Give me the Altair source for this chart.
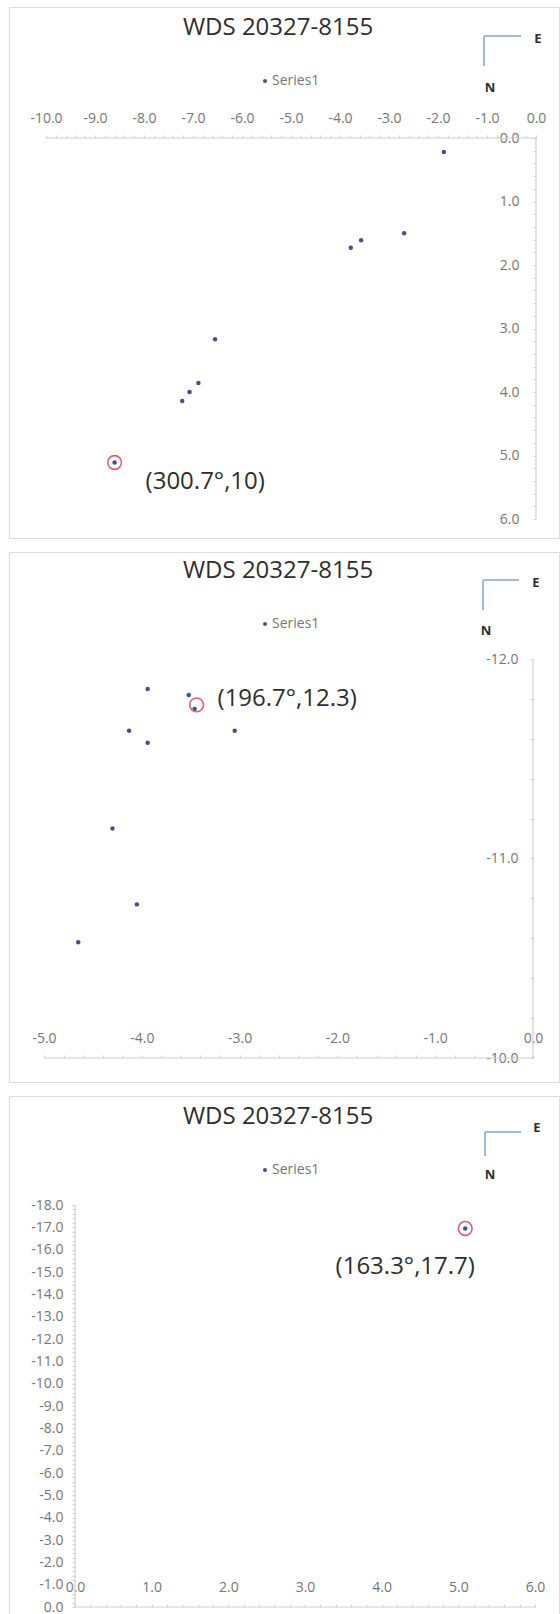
import altair as alt
import pandas as pd

FONT = "Open Sans"
TITLE_TEXT = "WDS 20327-8155"
LEGEND_TEXT = "Series1"
COMPASS_E = "E"
COMPASS_N = "N"

# ---------------- data (offsets in arcsec: E = x, N = y) ----------------
p1_e = [-1.88, -2.69, -3.57, -3.78, -6.55, -6.89, -7.07, -7.22, -8.60]
p1_n = [0.22, 1.50, 1.61, 1.73, 3.17, 3.86, 4.00, 4.14, 5.11]
p1_mark_e = [-8.60]
p1_mark_n = [5.11]
p1_mark_label = ["(300.7°,10)"]
p1_x_range = [-10, 0]
p1_y_range = [0, 6]

p2_e = [-3.94, -3.52, -3.46, -4.13, -3.94, -3.05, -4.30, -4.05, -4.65]
p2_n = [-11.85, -11.82, -11.75, -11.64, -11.58, -11.64, -11.15, -10.77, -10.58]
p2_mark_e = [-3.44]
p2_mark_n = [-11.77]
p2_mark_label = ["(196.7°,12.3)"]
p2_x_range = [-5, 0]
p2_y_range = [-12, -10]

p3_e = [5.09]
p3_n = [-16.95]
p3_mark_e = [5.09]
p3_mark_n = [-16.95]
p3_mark_label = ["(163.3°,17.7)"]
p3_x_range = [0, 6]
p3_y_range = [-18, 0]

# ---------------- styling ----------------
SERIES = "#3f5585"
RING = "#e0606f"
AXIS_GRAY = "#d0d0d0"
LABEL_GRAY = "#767676"
TEXT_DARK = "#2e2e2e"
COMPASS_BLUE = "#7fa6cf"
MINOR = 0.2
TICK_FS = 14
NOTE_FS = 24
TITLE_FS = 24
LEGEND_FS = 14
COMPASS_FS = 13

LABEL_EXPR = ("abs(datum.value - round(datum.value)) < 0.001 ? "
              "((datum.value < -0.001 ? '-' : '') + format(abs(datum.value), '.1f')) : ''")


def panel(e, n, me, mn, mlab, xr, yr, xcross, ycross, geo, deco, ann):
    W, H = geo["W"], geo["H"]
    sx = (geo["x1px"] - geo["x0px"]) / (xr[1] - xr[0])
    sy = (geo["y1px"] - geo["y0px"]) / (yr[1] - yr[0])
    xdom = [xr[0] - geo["x0px"] / sx, xr[0] + (W - geo["x0px"]) / sx]
    ydom = [yr[0] - geo["y0px"] / sy, yr[0] + (H - geo["y0px"]) / sy]
    xscale = alt.Scale(domain=xdom, nice=False, zero=False)
    yscale = alt.Scale(domain=ydom, nice=False, zero=False, reverse=True)
    x_axis_px = (xcross - ydom[0]) * sy
    y_axis_px = (ycross - xdom[0]) * sx
    nx = int(round((xr[1] - xr[0]) / MINOR))
    ny = int(round((yr[1] - yr[0]) / MINOR))
    xticks = [round(xr[0] + MINOR * i, 1) + 0.0 for i in range(nx + 1)]
    yticks = [round(yr[0] + MINOR * i, 1) + 0.0 for i in range(ny + 1)]

    xaxis = alt.Axis(orient="top", offset=-x_axis_px, values=xticks, labelExpr=LABEL_EXPR,
                     domain=False, grid=False, tickSize=3, tickColor=AXIS_GRAY, tickWidth=1,
                     labelColor=LABEL_GRAY, labelFont=FONT, labelFontSize=TICK_FS,
                     labelPadding=geo["xpad"], labelBaseline="middle", labelAlign="center",
                     labelOverlap=False, labelFlush=False, labelBound=False, title=None)
    yaxis = alt.Axis(orient="left", offset=-y_axis_px, values=yticks, labelExpr=LABEL_EXPR,
                     domain=False, grid=False, tickSize=3, tickColor=AXIS_GRAY, tickWidth=1,
                     labelColor=LABEL_GRAY, labelFont=FONT, labelFontSize=TICK_FS,
                     labelPadding=geo["ypad"], labelBaseline="middle", labelAlign="right",
                     labelOverlap=False, labelFlush=False, labelBound=False, title=None)

    X = lambda f: alt.X(f, type="quantitative", scale=xscale, axis=xaxis)
    Y = lambda f: alt.Y(f, type="quantitative", scale=yscale, axis=yaxis)

    axis_lines = pd.DataFrame({
        "e": [xr[0], ycross], "e2": [xr[1], ycross],
        "n": [xcross, yr[0]], "n2": [xcross, yr[1]],
    })
    pts = pd.DataFrame({"e": e, "n": n})
    marks = pd.DataFrame({"e": me, "n": mn, "label": mlab})

    rules = alt.Chart(axis_lines).mark_rule(color=AXIS_GRAY, strokeWidth=1.2).encode(
        x=X("e"), x2="e2", y=Y("n"), y2="n2")
    dots = alt.Chart(pts).mark_circle(size=20, color=SERIES, opacity=1).encode(x=X("e"), y=Y("n"))
    ring = alt.Chart(marks).mark_point(shape="circle", filled=False, size=190, color=RING,
                                       strokeWidth=1.6, opacity=1).encode(x=X("e"), y=Y("n"))
    note = alt.Chart(marks).mark_text(align=ann["align"], baseline="middle", dx=ann["dx"], dy=ann["dy"],
                                      font=FONT, fontSize=NOTE_FS, color=TEXT_DARK).encode(
        x=X("e"), y=Y("n"), text="label:N")

    one = pd.DataFrame({"t": [TITLE_TEXT], "s": [LEGEND_TEXT], "E": [COMPASS_E], "N": [COMPASS_N]})
    title = alt.Chart(one).mark_text(font=FONT, fontSize=TITLE_FS, color=TEXT_DARK, align="center",
                                     baseline="middle").encode(
        x=alt.value(deco["title_x"]), y=alt.value(deco["title_y"]), text="t:N")
    leg_dot = alt.Chart(one).mark_circle(size=16, color=SERIES, opacity=1).encode(
        x=alt.value(deco["leg_x"]), y=alt.value(deco["leg_y"]))
    leg_txt = alt.Chart(one).mark_text(font=FONT, fontSize=LEGEND_FS, color=LABEL_GRAY, align="left",
                                       baseline="middle").encode(
        x=alt.value(deco["leg_x"] + 7), y=alt.value(deco["leg_y"]), text="s:N")
    c_h = alt.Chart(one).mark_rule(color=COMPASS_BLUE, strokeWidth=1.5).encode(
        x=alt.value(deco["cx"]), x2=alt.value(deco["cx2"]),
        y=alt.value(deco["cy"]), y2=alt.value(deco["cy"]))
    c_v = alt.Chart(one).mark_rule(color=COMPASS_BLUE, strokeWidth=1.5).encode(
        x=alt.value(deco["cx"]), x2=alt.value(deco["cx"]),
        y=alt.value(deco["cy"]), y2=alt.value(deco["cy2"]))
    t_e = alt.Chart(one).mark_text(font=FONT, fontSize=COMPASS_FS, fontWeight="bold", color=TEXT_DARK,
                                   align="center", baseline="middle").encode(
        x=alt.value(deco["ex"]), y=alt.value(deco["ey"]), text="E:N")
    t_n = alt.Chart(one).mark_text(font=FONT, fontSize=COMPASS_FS, fontWeight="bold", color=TEXT_DARK,
                                   align="center", baseline="middle").encode(
        x=alt.value(deco["nx"]), y=alt.value(deco["ny"]), text="N:N")

    return alt.layer(rules, dots, ring, note, title, leg_dot, leg_txt, c_h, c_v, t_e, t_n).properties(
        width=W, height=H)


p1 = panel(p1_e, p1_n, p1_mark_e, p1_mark_n, p1_mark_label, p1_x_range, p1_y_range,
           xcross=0, ycross=0,
           geo=dict(W=550, H=531, x0px=37, x1px=527, y0px=131, y1px=512, xpad=17, ypad=14),
           deco=dict(title_x=269, title_y=21, leg_x=256, leg_y=74, cx=475, cx2=512, cy=29, cy2=59,
                     ex=529, ey=32, nx=481, ny=81),
           ann=dict(align="left", dx=31, dy=20))

p2 = panel(p2_e, p2_n, p2_mark_e, p2_mark_n, p2_mark_label, p2_x_range, p2_y_range,
           xcross=-10, ycross=0,
           geo=dict(W=550, H=530, x0px=35, x1px=524, y0px=107, y1px=506, xpad=17, ypad=12),
           deco=dict(title_x=269, title_y=19, leg_x=256, leg_y=72, cx=474, cx2=510, cy=28, cy2=58,
                     ex=527, ey=31, nx=477, ny=79),
           ann=dict(align="left", dx=21, dy=-6))

p3 = panel(p3_e, p3_n, p3_mark_e, p3_mark_n, p3_mark_label, p3_x_range, p3_y_range,
           xcross=0, ycross=0,
           geo=dict(W=550, H=522, x0px=66, x1px=526, y0px=109, y1px=511, xpad=17, ypad=9),
           deco=dict(title_x=269, title_y=21, leg_x=256, leg_y=74, cx=476, cx2=512, cy=36, cy2=60,
                     ex=528, ey=32, nx=481, ny=79),
           ann=dict(align="center", dx=-60, dy=39))

chart = alt.vconcat(p1, p2, p3, spacing=12).properties(
    padding={"left": 8, "top": 6, "right": 0, "bottom": 0}
).configure_view(stroke="#3a3a3a", strokeWidth=2).configure(background="white")

chart.save("out.html", embed_options={"renderer": "svg", "actions": False})
